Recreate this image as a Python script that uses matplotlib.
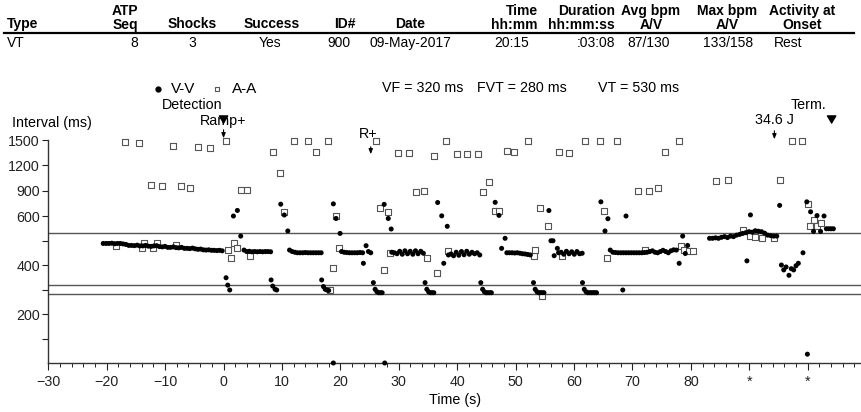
import numpy as np
import matplotlib
matplotlib.use("Agg")
import matplotlib.pyplot as plt
from matplotlib.lines import Line2D

plt.rcParams['font.family'] = ['Liberation Sans', 'DejaVu Sans']

# --- header table ---
hdr_labels = ["Type", "ATP\nSeq", "Shocks", "Success", "ID#", "Date", "Time\nhh:mm", "Duration\nhh:mm:ss",
              "Avg bpm\nA/V", "Max bpm\nA/V", "Activity at\nOnset"]
row_vals = ["VT", "8", "3", "Yes", "900", "09-May-2017", "20:15", ":03:08", "87/130", "133/158", "Rest"]

# --- episode data: V-V runs (time of first beat [s], successive intervals [ms]) ---
vv_runs = [
    (-20.6, [488, 488, 488, 489, 487, 488, 488, 486, 484, 480, 480, 479, 481, 478, 478, 480, 477, 476,
             478, 479, 475, 474, 476, 472, 472, 474, 471, 470, 472, 468, 468, 467, 469, 466, 464, 465,
             462, 461, 462, 460, 460, 459, 460, 458]),
    (3.51, [461, 455, 456, 454, 455, 454, 455, 454, 455, 455, 454]),
    (11.3, [461, 455, 452, 450, 450, 450, 451, 450, 450, 450, 450, 450, 450]),
    (20.2, [455, 452, 451, 450, 450, 450, 450, 451, 450]),
    (28.8, [452, 450, 446, 456, 444, 458, 446, 456, 444, 458, 446, 456, 448]),
    (38.5, [441, 445, 438, 452, 440, 455, 442, 456, 444, 452, 446, 450, 441]),
    (48.5, [450, 450, 450, 449, 450, 448, 446, 445, 443, 441]),
    (57.35, [450, 452, 444, 456, 446, 454, 444, 455, 446, 448]),
    (66.2, [461, 452, 451, 450, 450, 450, 450, 450, 450, 450, 450, 450, 450, 451, 452, 455, 458, 452,
            450, 455, 460, 455, 450, 458, 462, 461]),
    (83.2, [509, 509, 511, 509, 513, 516, 512, 518, 516, 522, 525, 529, 532, 536, 534, 540, 538, 536,
            530, 522, 520, 518, 518]),
]

# isolated V-V points (ATP bursts, return cycles, shocks)
vv_t = [0.43, 0.72, 1.06, 1.69, 2.37, 2.94,
        8.14, 8.42, 8.82, 9.1, 9.79, 10.4, 11.0,
        16.8, 17.1, 17.4, 17.7, 18.0, 18.8, 19.26, 19.95,
        23.94, 24.4, 24.8, 25.2,
        25.65, 25.95, 26.25, 26.55, 26.85, 27.15, 27.5, 28.2, 28.7,
        34.5, 34.8, 35.1, 35.4, 35.7, 36.0, 36.65, 37.35, 37.7, 38.3,
        44.04, 44.35, 44.65, 44.95, 45.25, 45.55, 45.85, 46.5, 47.15, 47.6, 48.2,
        53.06, 53.35, 53.65, 53.95, 54.25, 54.55, 54.85, 55.7, 56.05, 56.4, 56.6, 57.15,
        61.45, 61.75, 62.05, 62.35, 62.65, 62.95, 63.25, 63.55, 63.85, 64.6, 65.3, 65.8,
        68.35, 68.9,
        78.0, 78.6, 79.05, 79.45,
        89.6, 90.2,
        95.2, 95.5, 95.9, 96.3, 96.8, 97.2, 97.6, 98.0, 98.4, 99.2,
        99.85, 99.95, 100.5, 101.0, 101.6, 102.2, 102.8, 103.2, 103.6, 104.0, 104.4,
        18.8, 27.6]
vv_ms = [348, 318, 298, 600, 666, 518,
         339, 314, 301, 298, 740, 612, 539,
         339, 312, 301, 298, 296, 744, 590, 529,
         407, 479, 455, 450,
         328, 301, 291, 287, 287, 287, 738, 590, 547,
         328, 301, 291, 287, 287, 287, 760, 602, 407, 558,
         328, 301, 291, 287, 287, 287, 287, 762, 608, 468, 509,
         328, 301, 291, 287, 287, 287, 287, 665, 499, 499, 438, 468,
         328, 301, 291, 287, 287, 287, 287, 287, 287, 768, 539, 589,
         298, 600,
         407, 518, 447, 480,
         417, 613,
         726, 400, 380, 392, 358, 385, 380, 397, 407, 450,
         768, 36, 650, 537, 605, 537, 600, 548, 548, 548, 548,
         0, 0]

# A-A points
aa_t = [-18.4, -16.9, -14.4, -14.0, -13.6, -12.4, -12.0, -11.4, -10.5, -8.6, -8.1, -7.2, -5.7, -4.4,
        -2.4, 0.43, 0.8, 1.2, 1.75, 2.3, 3.0, 4.0, 4.5, 8.5, 9.7, 10.4, 12.1, 14.4, 15.8, 17.95,
        18.3, 18.7, 19.3, 19.7, 26.1, 26.7, 27.5, 28.1, 28.5, 29.9, 31.7, 33.0, 34.4, 34.9, 36.1,
        36.6, 38.1, 38.4, 39.9, 41.6, 43.5, 44.5, 45.5, 46.4, 47.1, 48.5, 49.8, 52.1, 53.1, 53.3,
        54.1, 54.5, 55.6, 57.5, 57.9, 59.2, 61.9, 64.5, 65.2, 65.6, 67.3, 71.0, 72.1, 72.8, 74.3,
        75.6, 77.9, 78.3, 78.9, 79.6, 80.3, 84.3, 86.3, 89.0, 90.2, 91.0, 92.2, 94.2, 95.3, 97.3,
        99.0, 100.0, 100.4, 101.0, 101.6, 102.3]
aa_ms = [478, 1476, 1464, 468, 491, 963, 468, 491, 955, 1432, 480, 955, 935, 1417,
         1401, 1487, 461, 430, 489, 471, 904, 911, 438, 1354, 1112, 651, 1490, 1490, 1354, 1490,
         298, 389, 603, 471, 1490, 698, 378, 651, 450, 1349, 1349, 884, 900, 430, 1310,
         369, 1490, 458, 1334, 1334, 1334, 884, 1006, 663, 663, 1373, 1354, 1490, 438, 461,
         698, 275, 558, 1361, 438, 1349, 1490, 1490, 663, 430, 1490, 900, 461, 900, 928,
         1361, 1490, 479, 461, 458, 458, 1014, 1026, 543, 518, 516, 511, 509, 1026, 1490,
         1490, 739, 559, 584, 559, 570]

zones = [530, 320, 280]
zone_txt = ["VF = 320 ms", "FVT = 280 ms", "VT = 530 ms"]

W, H = 862, 412
fig = plt.figure(figsize=(W / 100, H / 100), dpi=100)


def fx(px):
    return px / W


def fy(py):
    return 1 - py / H


# header
hdr_x = [7, 138, 192, 272, 345, 410, 538, 615, 651, 727, 802]
hdr_ha = ["left", "right", "center", "center", "center", "center", "right", "right", "center", "center", "center"]
val_x = [7, 138, 192, 270, 339, 410, 512, 615, 649, 728, 788]
val_ha = ["left", "right", "center", "center", "center", "center", "center", "right", "center", "center", "center"]
for i in range(len(hdr_labels)):
    if "\n" in hdr_labels[i]:
        fig.text(fx(hdr_x[i]), fy(18), hdr_labels[i], ha=hdr_ha[i], multialignment=hdr_ha[i],
                 va="center", fontsize=10, fontweight="bold", linespacing=0.95)
    else:
        fig.text(fx(hdr_x[i]), fy(24), hdr_labels[i], ha=hdr_ha[i], va="center", fontsize=10,
                 fontweight="bold")
    fig.text(fx(val_x[i]), fy(43), row_vals[i], ha=val_ha[i], va="center", fontsize=10)
fig.add_artist(Line2D([fx(4), fx(854)], [fy(32.5), fy(32.5)], color="black", lw=1.6))

# plot area
ax = fig.add_axes([fx(48.3), fy(363), fx(862) - fx(48.3), fy(140) - fy(363)])


def fwd(y):
    y = np.asarray(y, dtype=float)
    return np.where(y <= 600, y, 600 + (y - 600) / 2.9)


def inv(v):
    v = np.asarray(v, dtype=float)
    return np.where(v <= 600, v, 600 + (v - 600) * 2.9)


ax.set_yscale("function", functions=(fwd, inv))
ax.set_ylim(0, 1500)
ax.set_xlim(-30, 109.3)

for z in zones:
    ax.axhline(z, color="#555555", lw=1.0, zorder=1)

# V-V runs
for t0, iv in vv_runs:
    iv = np.array(iv)
    tt = t0 + (np.cumsum(iv) - iv[0]) / 1000.0
    ax.scatter(tt, iv, s=13, color="black", edgecolors="none", zorder=3, clip_on=False)
ax.scatter(vv_t, vv_ms, s=13, color="black", edgecolors="none", zorder=3, clip_on=False)
ax.scatter(aa_t, aa_ms, s=14, marker="s", facecolors="white", edgecolors="#555555",
           linewidths=0.8, zorder=2, clip_on=False)

# axes styling
for s in ["top", "right"]:
    ax.spines[s].set_visible(False)
for s in ["left", "bottom"]:
    ax.spines[s].set_color("#333333")
    ax.spines[s].set_linewidth(1.0)

ax.set_yticks([100, 200, 300, 400, 500, 600, 900, 1200, 1500])
ax.set_yticklabels(["", "200", "", "400", "", "600", "900", "1200", "1500"])
ax.yaxis.set_minor_locator(plt.NullLocator())
ax.tick_params(axis="y", direction="out", length=4.5, width=0.8, pad=1.5, labelsize=10.3, colors="#222222")

ax.set_xticks(np.arange(-30, 101, 10))
ax.set_xticklabels(["\u221230", "\u221220", "\u221210", "0", "10", "20", "30", "40", "50",
                    "60", "70", "80", "*", "*"])
ax.set_xticks(np.arange(-30, 110, 2), minor=True)
ax.tick_params(axis="x", which="major", direction="out", length=5, width=0.8, pad=3.5,
               labelsize=10.3, colors="#222222")
ax.tick_params(axis="x", which="minor", direction="out", length=3, width=0.7, colors="#222222")
ax.set_xlabel("Time (s)", fontsize=10.3, labelpad=3)

fig.text(fx(11.7), fy(123), "Interval (ms)", ha="left", va="center", fontsize=10.3)

# legend
fig.add_artist(Line2D([fx(158)], [fy(89)], marker="o", ms=3.5, color="black", ls="none"))
fig.text(fx(171), fy(89), "V-V", ha="left", va="center", fontsize=11)
fig.add_artist(Line2D([fx(217)], [fy(89)], marker="s", ms=3.3, mfc="white", mec="#555555",
                      mew=0.8, ls="none"))
fig.text(fx(232), fy(89), "A-A", ha="left", va="center", fontsize=11)

# zone settings
zone_x = [381.7, 476.7, 598.3]
for x, s in zip(zone_x, zone_txt):
    fig.text(fx(x), fy(88), s, ha="left", va="center", fontsize=10.3)

# event markers
fig.text(fx(161.7), fy(105), "Detection", ha="left", va="center", fontsize=10.3)
fig.text(fx(200), fy(121), "Ramp+", ha="left", va="center", fontsize=10.3)
fig.text(fx(368), fy(134), "R+", ha="center", va="center", fontsize=10.3)
fig.text(fx(774), fy(120), "34.6 J", ha="center", va="center", fontsize=10.3)
fig.text(fx(809), fy(105), "Term.", ha="center", va="center", fontsize=10.3)


def afrac(py):
    return (363 - py) / (363 - 140)


def arrow(t, y0, y1, bold=False):
    if bold:
        props = dict(arrowstyle="-|>,head_length=0.5,head_width=0.3", color="black", lw=1.0)
    else:
        props = dict(arrowstyle="-|>,head_length=0.3,head_width=0.12", color="black", lw=0.8)
    ax.annotate("", xy=(t, afrac(y1)), xytext=(t, afrac(y0)),
                xycoords=("data", "axes fraction"), textcoords=("data", "axes fraction"),
                arrowprops=props, annotation_clip=False)


arrow(0.0, 127, 141)
arrow(0.0, 119, 127, bold=True)
arrow(25.2, 144, 157)
arrow(94.3, 128, 142)
arrow(104.1, 114, 127, bold=True)

fig.savefig("out.png", dpi=100)
